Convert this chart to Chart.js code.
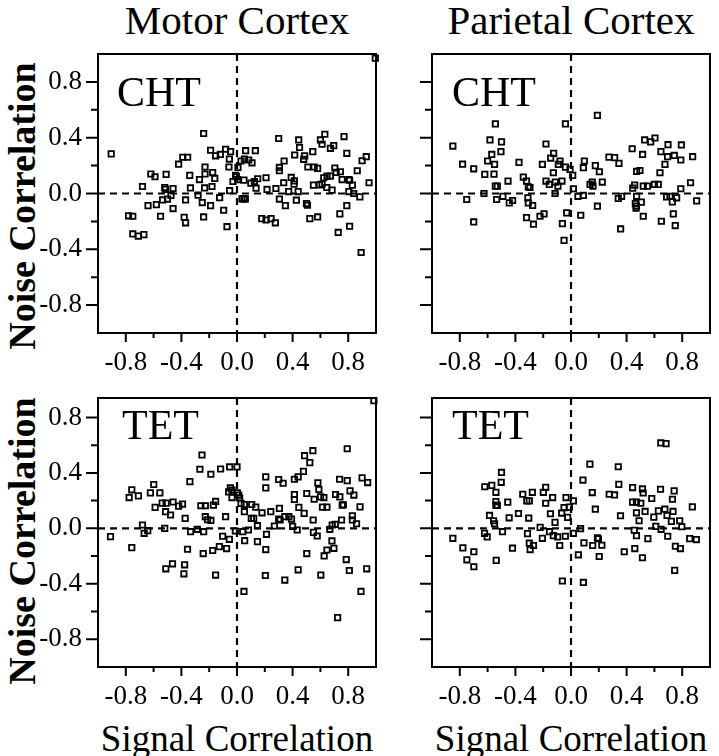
<!DOCTYPE html>
<html>
<head>
<meta charset="utf-8">
<script src="https://cdn.jsdelivr.net/npm/chart.js@4.4.0/dist/chart.umd.min.js"></script>
<style>
  body { margin: 0; background: #fff; width: 719px; height: 756px; position: relative; overflow: hidden;
         font-family: "Liberation Serif", "Times New Roman", serif; color: #000; }
  canvas { position: absolute; }
  .t { position: absolute; white-space: nowrap; line-height: 1; }
  .yl { font-size: 38px; font-weight: bold; transform: translate(-50%,-50%) rotate(-90deg); }
</style>
</head>
<body>
<div class="t" style="left:237px;top:0px;font-size:41px;transform:translateX(-50%)">Motor Cortex</div>
<div class="t" style="left:571px;top:0px;font-size:41px;transform:translateX(-50%)">Parietal Cortex</div>
<div class="t yl" style="left:22px;top:206px">Noise Correlation</div>
<div class="t yl" style="left:22px;top:541px">Noise Correlation</div>
<div class="t" style="left:237px;top:738px;font-size:37px;transform:translate(-50%,-50%)">Signal Correlation</div>
<div class="t" style="left:571px;top:738px;font-size:37px;transform:translate(-50%,-50%)">Signal Correlation</div>

<canvas id="c1"></canvas>
<canvas id="c2"></canvas>
<canvas id="c3"></canvas>
<canvas id="c4"></canvas>

<div class="t" style="left:117px;top:71px;font-size:42px">CHT</div>
<div class="t" style="left:452px;top:71px;font-size:42px">CHT</div>
<div class="t" style="left:122px;top:404px;font-size:42px">TET</div>
<div class="t" style="left:452px;top:404px;font-size:42px">TET</div>

<script>
// tick positions (every 0.2) and the ones that carry a label
const tickValues = [-0.8, -0.6, -0.4, -0.2, 0, 0.2, 0.4, 0.6, 0.8];
const labelledTicks = [-0.8, -0.4, 0, 0.4, 0.8];

// [signal correlation, noise correlation] pairs
const motorCHT = [[-0.905,0.284],[-0.78,-0.16],[-0.75,-0.163],[-0.75,-0.29],[-0.71,-0.305],[-0.67,-0.295],[-0.68,0.05],[-0.64,-0.087],[-0.62,0.14],[-0.59,0.12],[-0.58,-0.08],[-0.55,-0.163],[-0.535,-0.046],[-0.52,0.043],[-0.515,0.03],[-0.51,0.137],[-0.50,-0.04],[-0.475,-0.014],[-0.46,0.036],[-0.46,-0.108],[-0.42,0.21],[-0.39,0.26],[-0.355,0.26],[-0.37,-0.046],[-0.38,-0.17],[-0.37,-0.21],[-0.34,0.13],[-0.335,0.04],[-0.28,-0.012],[-0.27,0.10],[-0.25,-0.065],[-0.24,0.43],[-0.24,-0.168],[-0.23,0.19],[-0.23,0.14],[-0.233,0.04],[-0.19,0.31],[-0.19,-0.087],[-0.18,0.05],[-0.175,0.15],[-0.16,0.108],[-0.154,0.27],[-0.12,0.28],[-0.125,-0.03],[-0.096,-0.12],[-0.082,0.317],[-0.055,0.247],[-0.058,0.19],[-0.046,0.30],[-0.053,0.02],[-0.072,-0.238],[-0.029,0.086],[-0.01,0.13],[-0.005,0.12],[0.007,0.187],[0.005,0.10],[0.029,0.233],[0.05,0.096],[0.062,0.307],[0.053,0.247],[0.084,0.24],[0.108,0.22],[0.036,-0.038],[0.05,-0.038],[0.06,-0.038],[0.10,0.074],[0.132,0.307],[0.137,0.038],[0.125,0.086],[0.149,0.106],[0.178,-0.18],[0.209,-0.19],[0.245,-0.18],[0.276,-0.21],[0.209,0.113],[0.216,0.029],[0.28,0.036],[0.30,0.394],[0.305,0.187],[0.305,0.163],[0.305,-0.04],[0.339,0.233],[0.336,0.077],[0.348,-0.087],[0.372,0.014],[0.39,0.115],[0.413,0.09],[0.41,0.067],[0.415,0.276],[0.427,-0.048],[0.44,0.014],[0.444,0.384],[0.45,0.33],[0.48,0.245],[0.487,0.27],[0.50,-0.072],[0.507,-0.084],[0.51,0.19],[0.524,-0.18],[0.545,0.30],[0.55,0.06],[0.555,0.19],[0.58,0.18],[0.58,-0.168],[0.60,0.384],[0.612,0.353],[0.632,0.425],[0.593,0.062],[0.612,0.067],[0.624,0.113],[0.648,0.125],[0.672,0.125],[0.646,0.043],[0.672,0.324],[0.696,0.343],[0.704,0.183],[0.684,0.024],[0.713,0.151],[0.728,-0.279],[0.74,-0.146],[0.744,0.156],[0.756,0.10],[0.77,0.408],[0.79,0.288],[0.79,-0.087],[0.81,-0.235],[0.805,0.10],[0.81,0.095],[0.805,0.014],[0.83,0.06],[0.84,0],[0.865,0.163],[0.884,-0.024],[0.893,-0.423],[0.90,0.235],[0.93,0.264],[0.95,0.077],[0.995,0.97]];

const parietalCHT = [[-0.85,0.34],[-0.78,0.21],[-0.75,-0.043],[-0.70,0.177],[-0.70,-0.204],[-0.626,0],[-0.62,0.137],[-0.60,0.233],[-0.583,0.384],[-0.57,0.28],[-0.55,0.209],[-0.554,0.139],[-0.544,0.499],[-0.544,0.053],[-0.53,0.053],[-0.535,-0.043],[-0.50,0.37],[-0.504,0.30],[-0.49,-0.02],[-0.453,0.089],[-0.444,-0.067],[-0.42,-0.05],[-0.374,0.223],[-0.343,0.118],[-0.32,0.089],[-0.307,0.048],[-0.295,0.043],[-0.31,-0.031],[-0.307,-0.067],[-0.276,-0.086],[-0.32,-0.173],[-0.27,-0.22],[-0.223,-0.163],[-0.194,-0.146],[-0.206,0.209],[-0.18,0.355],[-0.18,0.089],[-0.156,0.065],[-0.146,0.254],[-0.125,0.288],[-0.127,0.149],[-0.113,0.082],[-0.115,0],[-0.094,0.053],[-0.091,0.209],[-0.079,0.233],[-0.065,0.089],[-0.062,-0.216],[-0.05,-0.336],[-0.04,0.499],[-0.04,0.189],[-0.031,-0.139],[-0.007,0.173],[0.012,0.13],[0.017,0.034],[0.05,-0.02],[0.089,-0.014],[0.07,-0.156],[0.089,0.185],[0.096,0.233],[0.137,0.065],[0.153,0.082],[0.158,0.053],[0.175,0.20],[0.204,0.156],[0.19,0.56],[0.19,-0.091],[0.225,0.082],[0.273,0.261],[0.314,0.257],[0.345,0.216],[0.34,-0.036],[0.364,-0.02],[0.357,-0.254],[0.44,0.321],[0.444,0.038],[0.458,0.06],[0.472,-0.02],[0.463,-0.072],[0.468,-0.106],[0.47,-0.09],[0.472,0.158],[0.496,0.165],[0.506,-0.062],[0.515,0.28],[0.52,0.053],[0.55,0.053],[0.52,-0.163],[0.53,0.384],[0.573,0.37],[0.604,0.398],[0.60,0.065],[0.628,0.065],[0.64,0.149],[0.647,0.30],[0.65,-0.199],[0.676,0.209],[0.688,-0.024],[0.712,-0.02],[0.698,0.35],[0.695,0.264],[0.743,0.273],[0.729,-0.06],[0.76,-0.031],[0.736,-0.146],[0.75,-0.23],[0.79,0.24],[0.794,0.348],[0.79,0.034],[0.86,0.077],[0.875,0.264],[0.904,-0.053]];

const motorTET = [[-0.91,-0.06],[-0.776,0.222],[-0.757,0.278],[-0.757,-0.139],[-0.709,0.234],[-0.68,0.024],[-0.668,-0.036],[-0.642,-0.017],[-0.623,0.256],[-0.599,0.316],[-0.589,0.151],[-0.555,0.256],[-0.538,0.182],[-0.51,0.182],[-0.52,0],[-0.514,0.12],[-0.478,0.096],[-0.46,0.19],[-0.512,-0.292],[-0.464,-0.256],[-0.42,0.16],[-0.392,0.175],[-0.377,-0.263],[-0.382,-0.328],[-0.373,0.072],[-0.356,-0.151],[-0.339,0.337],[-0.334,-0.024],[-0.286,-0.007],[-0.267,0.426],[-0.252,0.529],[-0.26,0.163],[-0.228,0.163],[-0.24,-0.024],[-0.243,-0.182],[-0.228,0.084],[-0.212,0.062],[-0.188,0.057],[-0.188,0.39],[-0.175,-0.16],[-0.17,0.167],[-0.154,0.194],[-0.154,-0.337],[-0.127,-0.132],[-0.118,0.428],[-0.103,-0.057],[-0.082,0.084],[-0.075,-0.146],[-0.055,-0.079],[-0.053,0.443],[-0.048,0.292],[-0.06,0.263],[-0.036,0.222],[-0.036,0.275],[0,0.443],[0.002,0.256],[0.012,0.24],[0.019,0.22],[-0.012,-0.019],[0.029,0.18],[0.053,0.172],[0.053,0.12],[0.041,-0.024],[0.055,-0.089],[0.082,-0.012],[0.05,-0.455],[0.106,0.172],[0.103,0.072],[0.12,0.072],[0.135,0.153],[0.147,0.019],[0.147,-0.096],[0.18,0.112],[0.207,0.371],[0.207,0.292],[0.212,-0.043],[0.207,-0.153],[0.204,-0.34],[0.243,0.12],[0.269,0.017],[0.30,0.352],[0.305,0.144],[0.30,0.067],[0.31,0.06],[0.332,0.325],[0.344,0.084],[0.373,0.084],[0.344,-0.373],[0.392,0.067],[0.40,0.014],[0.413,0.354],[0.44,0.371],[0.413,0.244],[0.413,0.208],[0.433,-0.012],[0.44,-0.299],[0.445,0.151],[0.478,0.411],[0.486,0.524],[0.524,0.474],[0.546,0.56],[0.502,0.251],[0.483,0.108],[0.502,-0.182],[0.548,0.06],[0.55,-0.029],[0.577,-0.055],[0.555,0.21],[0.582,0.328],[0.589,0.28],[0.601,0.227],[0.625,0.222],[0.615,0.153],[0.647,0.153],[0.603,-0.337],[0.627,-0.199],[0.647,-0.156],[0.668,-0.007],[0.685,0.024],[0.707,0.029],[0.683,-0.091],[0.697,-0.144],[0.709,0.244],[0.74,0.227],[0.724,-0.644],[0.738,0.354],[0.757,0.167],[0.765,0.17],[0.752,0.06],[0.793,0.574],[0.793,0.344],[0.786,-0.225],[0.808,-0.304],[0.813,0.27],[0.841,0.24],[0.83,0.091],[0.83,0.06],[0.86,0.033],[0.885,0.155],[0.892,-0.455],[0.90,0.364],[0.94,0.33],[0.933,-0.292],[0.985,0.92]];

const parietalTET = [[-0.85,-0.072],[-0.778,-0.141],[-0.749,-0.227],[-0.699,-0.169],[-0.699,-0.277],[-0.62,0.30],[-0.57,0.31],[-0.622,-0.036],[-0.603,-0.062],[-0.586,0.093],[-0.557,0.055],[-0.55,0.033],[-0.54,0.26],[-0.54,0.193],[-0.54,0.165],[-0.53,0.165],[-0.538,-0.231],[-0.50,0.403],[-0.502,0.332],[-0.493,-0.024],[-0.455,0.189],[-0.445,0.076],[-0.421,-0.143],[-0.378,0.107],[-0.347,0.246],[-0.318,0.198],[-0.30,0.198],[-0.304,0.074],[-0.313,-0.038],[-0.30,-0.107],[-0.294,-0.153],[-0.27,-0.124],[-0.278,0.26],[-0.222,0.007],[-0.206,-0.072],[-0.199,0.26],[-0.182,0.296],[-0.182,0.181],[-0.155,-0.024],[-0.148,0.105],[-0.132,0.222],[-0.127,-0.053],[-0.096,-0.062],[-0.115,0.043],[-0.081,-0.124],[-0.067,0.11],[-0.05,0.15],[-0.062,-0.38],[-0.041,-0.057],[-0.036,0.222],[-0.024,0.079],[-0.012,0.153],[0.017,0.198],[0.017,-0.036],[0.053,-0.191],[0.069,-0.002],[0.086,0.348],[0.089,-0.39],[0.093,-0.105],[0.136,0.463],[0.153,0.258],[0.156,-0.124],[0.175,0.138],[0.19,-0.069],[0.197,-0.075],[0.203,-0.203],[0.222,-0.122],[0.275,0.246],[0.313,0.241],[0.34,0.444],[0.344,0.317],[0.356,0.091],[0.383,-0.169],[0.443,0.294],[0.443,0.189],[0.471,0.189],[0.502,0.181],[0.455,-0.014],[0.471,-0.053],[0.459,-0.146],[0.471,0.112],[0.49,0.055],[0.514,0.284],[0.519,0.255],[0.514,-0.212],[0.533,0.122],[0.553,-0.074],[0.581,0.215],[0.596,0.081],[0.61,0.014],[0.629,0.126],[0.644,0.282],[0.648,-0.007],[0.646,0.616],[0.684,0.611],[0.675,0.138],[0.691,0.093],[0.696,-0.057],[0.722,0.05],[0.73,0.21],[0.734,0.122],[0.742,0.27],[0.746,-0.303],[0.751,-0.129],[0.787,-0.146],[0.782,0.055],[0.797,0.012],[0.873,0.155],[0.854,-0.074],[0.902,-0.081]];

const FONT = '"Liberation Serif", "Times New Roman", serif';
const PAD = 6, X_AXIS_H = 50;

// plot boxes in page pixels: left, top, right, bottom
const panels = [
  { id: 'c1', data: motorCHT,    box: [98, 54, 376, 333],  yMax: 1,    yLabels: true  },
  { id: 'c2', data: parietalCHT, box: [432, 54, 710, 333], yMax: 1,    yLabels: false },
  { id: 'c3', data: motorTET,    box: [98, 398, 376, 667], yMax: 0.94, yLabels: true  },
  { id: 'c4', data: parietalTET, box: [432, 398, 710, 667], yMax: 0.94, yLabels: false }
];

const isLabelled = v => labelledTicks.some(t => Math.abs(t - v) < 1e-6);

// frame, dashed zero lines and long/short tick marks
const framePlugin = {
  id: 'frame',
  beforeDatasetsDraw(chart) {
    const { ctx, chartArea: a, scales: { x, y } } = chart;
    const x0 = x.getPixelForValue(0), y0 = y.getPixelForValue(0);
    ctx.save();
    ctx.strokeStyle = '#000';
    ctx.lineWidth = 2.2;
    ctx.setLineDash([7, 5]);
    ctx.beginPath();
    ctx.moveTo(x0, a.top); ctx.lineTo(x0, a.bottom);
    ctx.moveTo(a.left, y0); ctx.lineTo(a.right, y0);
    ctx.stroke();
    ctx.restore();
  },
  afterDraw(chart) {
    const { ctx, chartArea: a, scales: { x, y } } = chart;
    ctx.save();
    ctx.strokeStyle = '#000';
    ctx.lineWidth = 2;
    ctx.strokeRect(a.left, a.top, a.right - a.left, a.bottom - a.top);
    ctx.beginPath();
    x.ticks.forEach(t => {
      const px = x.getPixelForValue(t.value);
      ctx.moveTo(px, a.bottom); ctx.lineTo(px, a.bottom + (isLabelled(t.value) ? 9 : 5));
    });
    y.ticks.forEach(t => {
      const py = y.getPixelForValue(t.value);
      ctx.moveTo(a.left, py); ctx.lineTo(a.left - (isLabelled(t.value) ? 12 : 7), py);
    });
    ctx.stroke();
    ctx.restore();
  }
};

panels.forEach(p => {
  const [L, T, R, B] = p.box;
  const yW = p.yLabels ? L : 14;
  const cv = document.getElementById(p.id);
  cv.width = R - L + yW + PAD;
  cv.height = B - T + PAD + X_AXIS_H;
  cv.style.left = (L - yW) + 'px';
  cv.style.top = (T - PAD) + 'px';

  new Chart(cv, {
    type: 'scatter',
    data: {
      datasets: [{
        data: p.data.map(([x, y]) => ({ x, y })),
        pointStyle: 'rect',
        pointRadius: 3.8,
        borderWidth: 1.8,
        borderColor: '#000',
        backgroundColor: 'rgba(0,0,0,0)',
        clip: false
      }]
    },
    options: {
      responsive: false,
      animation: false,
      devicePixelRatio: 1,
      layout: { padding: { top: PAD, right: PAD, left: 0, bottom: 0 } },
      plugins: { legend: { display: false }, tooltip: { enabled: false } },
      scales: {
        x: {
          type: 'linear', min: -1, max: 1,
          afterBuildTicks: s => { s.ticks = tickValues.map(v => ({ value: v })); },
          afterFit: s => { s.height = X_AXIS_H; s.paddingLeft = 0; s.paddingRight = 0; },
          grid: { display: true, drawOnChartArea: false, drawTicks: true, tickLength: 9, tickColor: 'rgba(0,0,0,0)' },
          border: { display: false },
          ticks: {
            padding: 5, autoSkip: false, maxRotation: 0, color: '#000',
            font: { family: FONT, size: 27 },
            callback: v => isLabelled(v) ? v.toFixed(1) : ''
          }
        },
        y: {
          type: 'linear', min: -1, max: p.yMax,
          afterBuildTicks: s => { s.ticks = tickValues.map(v => ({ value: v })); },
          afterFit: s => { s.width = yW; s.paddingTop = 0; s.paddingBottom = 0; },
          grid: { display: true, drawOnChartArea: false, drawTicks: true, tickLength: 12, tickColor: 'rgba(0,0,0,0)' },
          border: { display: false },
          ticks: {
            display: p.yLabels,
            padding: 4, autoSkip: false, color: '#000',
            font: { family: FONT, size: 27 },
            callback: v => isLabelled(v) ? v.toFixed(1) : ''
          }
        }
      }
    },
    plugins: [framePlugin]
  });
});
</script>
</body>
</html>
